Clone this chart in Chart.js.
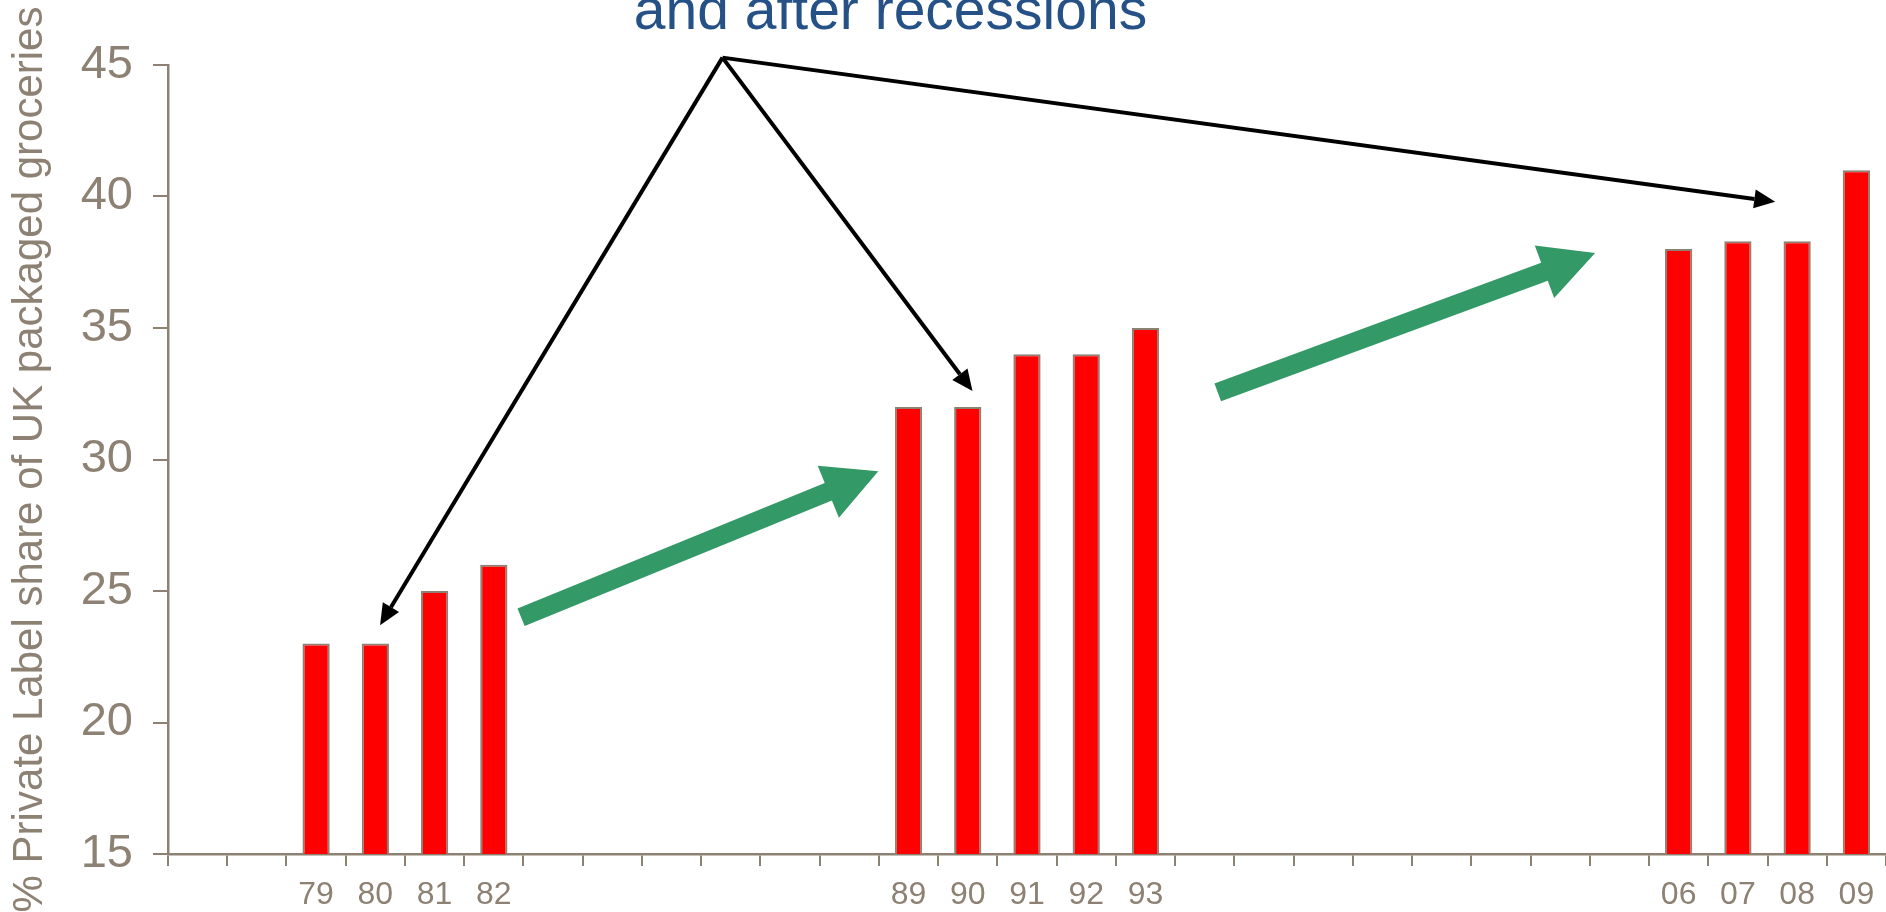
<!DOCTYPE html>
<html>
<head>
<meta charset="utf-8">
<title>Private label share of UK packaged groceries</title>
<script src="https://cdn.jsdelivr.net/npm/chart.js@4"></script>
<style>
  html,body{margin:0;padding:0;background:#fff;overflow:hidden}
  #wrap{width:1886px;height:912px;position:relative}
</style>
</head>
<body>
<div id="wrap"><canvas id="chart"></canvas></div>
<script>
/* ---------- data ---------- */
const years = ['','','79','80','81','82','','','','','','','89','90','91','92','93',
               '','','','','','','','','06','07','08','09'];
const share = [null,null,23,23,25,26,null,null,null,null,null,null,32,32,34,34,35,
               null,null,null,null,null,null,null,null,38,38.3,38.3,41];
const yRange = [15,45];
const yStep  = 5;

/* annotation anchors, in data units: [category index, value] */
const apex      = [8.86,45.28];
const pointers  = [[3.08,23.7],[13.08,32.6],[26.63,39.8]];
const upArrows  = [[[5.46,24.0],[11.49,29.55]],[[17.22,32.55],[23.59,37.85]]];
const noteText  = 'and after recessions';

/* ---------- style ---------- */
const fam     = "'Liberation Sans', Arial, sans-serif";
const axisCol = '#8c8173';
const barRed  = '#ff0000';
const green   = '#339966';
const noteCol = '#255186';

/* ---------- arrows + note ---------- */
const notes = {
  id:'notes',
  afterDatasetsDraw(chart){
    const {ctx, scales:{x,y}} = chart;
    const px = p => [x.getPixelForValue(p[0]), y.getPixelForValue(p[1])];
    ctx.save();

    // heading line (top line is off-canvas in the original)
    ctx.fillStyle = noteCol;
    ctx.font = `57px ${fam}`;
    ctx.textAlign = 'center';
    ctx.textBaseline = 'alphabetic';
    ctx.fillText(noteText, x.getPixelForValue(apex[0]) + 168, 29);

    // black pointers
    const [ax,ay] = px(apex);
    ctx.strokeStyle = '#000'; ctx.fillStyle = '#000'; ctx.lineWidth = 4;
    ctx.lineJoin = 'miter';
    pointers.forEach(p=>{
      const [tx,ty] = px(p);
      const a = Math.atan2(ty-ay, tx-ax), hl = 21, hw = 9.5;
      const bx = tx - hl*Math.cos(a), by = ty - hl*Math.sin(a);
      ctx.beginPath(); ctx.moveTo(ax,ay); ctx.lineTo(bx,by); ctx.stroke();
      ctx.beginPath();
      ctx.moveTo(tx,ty);
      ctx.lineTo(bx + hw*Math.sin(a), by - hw*Math.cos(a));
      ctx.lineTo(bx - hw*Math.sin(a), by + hw*Math.cos(a));
      ctx.closePath(); ctx.fill();
    });

    // green trend arrows
    ctx.fillStyle = green;
    upArrows.forEach(([s,e])=>{
      const [sx,sy] = px(s), [ex,ey] = px(e);
      const a = Math.atan2(ey-sy, ex-sx), c = Math.cos(a), sn = Math.sin(a);
      const sw = 9.5, hl = 54, hw = 28;
      const bx = ex - hl*c, by = ey - hl*sn;
      ctx.beginPath();
      ctx.moveTo(sx + sw*sn, sy - sw*c);
      ctx.lineTo(bx + sw*sn, by - sw*c);
      ctx.lineTo(bx + hw*sn, by - hw*c);
      ctx.lineTo(ex, ey);
      ctx.lineTo(bx - hw*sn, by + hw*c);
      ctx.lineTo(bx - sw*sn, by + sw*c);
      ctx.lineTo(sx - sw*sn, sy + sw*c);
      ctx.closePath(); ctx.fill();
    });
    ctx.restore();
  }
};

new Chart(document.getElementById('chart'),{
  type:'bar',
  data:{labels:years,datasets:[{
    data:share,backgroundColor:barRed,borderColor:axisCol,borderWidth:2,
    barPercentage:0.46,categoryPercentage:1
  }]},
  options:{
    responsive:true,maintainAspectRatio:false,animation:false,
    layout:{padding:{top:65,right:0,left:0,bottom:0}},
    plugins:{legend:{display:false},tooltip:{enabled:false}},
    scales:{
      x:{
        grid:{offset:true,drawOnChartArea:false,tickLength:12,color:axisCol,lineWidth:2},
        border:{display:true,color:axisCol,width:2.5},
        ticks:{color:axisCol,font:{size:32,family:fam},padding:10,autoSkip:false,maxRotation:0},
        afterFit:s=>{s.height=58;}
      },
      y:{
        min:yRange[0],max:yRange[1],
        grid:{drawOnChartArea:false,tickLength:15,color:axisCol,lineWidth:2},
        border:{display:true,color:axisCol,width:2.5},
        ticks:{stepSize:yStep,color:axisCol,font:{size:47,family:fam},padding:20},
        title:{display:true,text:'% Private Label share of UK packaged groceries',
               color:axisCol,font:{size:42,family:fam},padding:{top:5,bottom:0}},
        afterFit:s=>{s.width=168;}
      }
    }
  },
  plugins:[notes]
});
</script>
</body>
</html>
